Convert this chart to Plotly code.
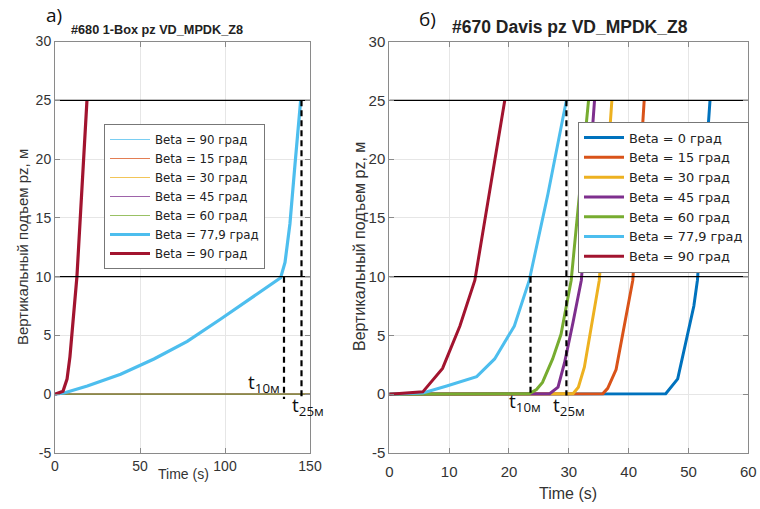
import plotly.graph_objects as go

# ---------------- data ----------------
# Left panel: #680 1-Box
left_flat_t = [0, 150]
left_flat_pz = [0, 0]
left_b779_t = [0, 5.3, 19, 38.6, 58.2, 77.8, 97.5, 117, 132.7, 135.3, 138.2, 141.2, 144.5]
left_b779_pz = [0, 0.1, 0.7, 1.7, 3.0, 4.5, 6.4, 8.3, 9.9, 11.2, 14.5, 19.6, 25]
left_b90_t = [0, 4.7, 7.1, 8.8, 12.9, 18.8]
left_b90_pz = [0, 0.25, 1.3, 3.2, 10, 25]
left_t10 = 134.7
left_t25 = 145.0

# Right panel: #670 Davis
r_b0_t = [0, 46.2, 48.2, 50.9, 51.5, 53.6]
r_b0_pz = [0, 0.05, 1.3, 7.5, 9.7, 25]
r_b15_t = [0, 35.7, 36.5, 37.9, 40.7, 42.6]
r_b15_pz = [0, 0.05, 0.5, 2.1, 9.7, 25]
r_b30_t = [0, 30.7, 31.6, 32.6, 35.1, 37.2]
r_b30_pz = [0, 0.05, 0.6, 2.3, 9.7, 25]
r_b45_t = [0, 26.8, 28.2, 29.3, 30.7, 32.1, 34.3]
r_b45_pz = [0, 0.05, 0.6, 2.7, 6.1, 9.7, 25]
r_b60_t = [0, 23.4, 24.6, 25.6, 27.3, 28.7, 30.4, 33.3]
r_b60_pz = [0, 0.05, 0.4, 1.0, 3.0, 5.1, 9.7, 25]
r_b779_t = [0, 5.6, 9.6, 14.6, 17.6, 20.9, 23.4, 26.5, 29.6]
r_b779_pz = [0, 0.1, 0.7, 1.5, 3.0, 5.8, 9.7, 17, 25]
r_b90_t = [0, 5.6, 8.9, 11.8, 14.3, 19.3]
r_b90_pz = [0, 0.2, 2.2, 5.8, 9.7, 25]
right_t10 = 23.6
right_t25 = 29.6

levels = [10, 25]
labels = ["Beta = 0 град", "Beta = 15 град", "Beta = 30 град", "Beta = 45 град",
          "Beta = 60 град", "Beta = 77,9 град", "Beta = 90 град"]
left_xticks = [0, 50, 100, 150]
right_xticks = [0, 10, 20, 30, 40, 50, 60]
yticks = [-5, 0, 5, 10, 15, 20, 25, 30]
ytick_text = ["-5", "0", "5", "10", "15", "20", "25", "30"]

C0, C15, C30, C45, C60, C779, C90 = "#0072BD", "#D95319", "#EDB120", "#7E2F8E", "#77AC30", "#4DBEEE", "#A2142F"

fig = go.Figure()

# ---- left panel traces ----
thin = [("Beta = 90 град", C779), (labels[1], C15), (labels[2], C30), (labels[3], C45), (labels[4], C60)]
for name, col in thin:
    fig.add_trace(go.Scatter(x=left_flat_t, y=left_flat_pz, mode="lines", name=name,
                             line=dict(color=col, width=1.2), opacity=0.75,
                             xaxis="x", yaxis="y", legend="legend"))
fig.add_trace(go.Scatter(x=left_b779_t, y=left_b779_pz, mode="lines", name=labels[5],
                         line=dict(color=C779, width=3.2), xaxis="x", yaxis="y", legend="legend"))
fig.add_trace(go.Scatter(x=left_b90_t, y=left_b90_pz, mode="lines", name=labels[6],
                         line=dict(color=C90, width=3.2), xaxis="x", yaxis="y", legend="legend"))

for lv in levels:
    fig.add_trace(go.Scatter(x=[0, 150], y=[lv, lv], mode="lines", showlegend=False,
                             line=dict(color="black", width=1.3), xaxis="x", yaxis="y"))
for tv, lv in [(left_t10, 10), (left_t25, 25)]:
    fig.add_trace(go.Scatter(x=[tv, tv], y=[lv, -0.4], mode="lines", showlegend=False,
                             line=dict(color="black", width=2.2, dash="6px,4px"), xaxis="x", yaxis="y"))

# ---- right panel traces ----
right_series = [(r_b0_t, r_b0_pz, C0), (r_b15_t, r_b15_pz, C15), (r_b30_t, r_b30_pz, C30),
                (r_b45_t, r_b45_pz, C45), (r_b60_t, r_b60_pz, C60), (r_b779_t, r_b779_pz, C779),
                (r_b90_t, r_b90_pz, C90)]
for (tt, pp, col), name in zip(right_series, labels):
    fig.add_trace(go.Scatter(x=tt, y=pp, mode="lines", name=name,
                             line=dict(color=col, width=3), xaxis="x2", yaxis="y2", legend="legend2"))
for lv in levels:
    fig.add_trace(go.Scatter(x=[0, 60], y=[lv, lv], mode="lines", showlegend=False,
                             line=dict(color="black", width=1.3), xaxis="x2", yaxis="y2"))
for tv, lv in [(right_t10, 10), (right_t25, 25)]:
    fig.add_trace(go.Scatter(x=[tv, tv], y=[lv, -0.1], mode="lines", showlegend=False,
                             line=dict(color="black", width=2.2, dash="6px,4px"), xaxis="x2", yaxis="y2"))

W, H = 760, 509
def px_x(p): return p / W
def px_y(p): return 1 - p / H

FONT = "Liberation Sans, Arial"
LFONT = "DejaVu Sans"
axcommon = dict(showline=True, mirror="ticks", linecolor="#8a8a8a", linewidth=1,
                ticks="inside", ticklen=5, tickcolor="#8a8a8a", automargin=False,
                showgrid=True, gridcolor="#e6e6e6", gridwidth=1, zeroline=False)

ydom = [px_y(453), px_y(41.5)]
fig.update_layout(
    width=W, height=H, margin=dict(l=0, r=0, t=0, b=0, autoexpand=False),
    paper_bgcolor="white", plot_bgcolor="white",
    xaxis=dict(domain=[px_x(55), px_x(310)], range=[0, 150], tickvals=left_xticks, anchor="y",
               tickfont=dict(family=FONT, size=14, color="#333333"),
               **axcommon),
    yaxis=dict(domain=ydom, range=[-5, 30], tickvals=yticks, ticktext=ytick_text, anchor="x",
               tickfont=dict(family=FONT, size=14, color="#333333"),
               **axcommon),
    xaxis2=dict(domain=[px_x(389.3), px_x(748.3)], range=[0, 60], tickvals=right_xticks, anchor="y2",
                tickfont=dict(family=FONT, size=15, color="#333333"), ticklabelstandoff=5,
                **axcommon),
    yaxis2=dict(domain=ydom, range=[-5, 30], tickvals=yticks, ticktext=ytick_text, anchor="x2",
                tickfont=dict(family=FONT, size=15, color="#333333"),
                **axcommon),
    legend=dict(x=px_x(104), y=px_y(124), xanchor="left", yanchor="top",
                bgcolor="white", bordercolor="#777777", borderwidth=1,
                font=dict(family=LFONT, size=11.8, color="#222222"),
                itemwidth=40, tracegroupgap=0),
    legend2=dict(x=px_x(578), y=px_y(121.7), xanchor="left", yanchor="top",
                 bgcolor="white", bordercolor="#777777", borderwidth=1,
                 font=dict(family=LFONT, size=12.9, color="#222222"),
                 itemwidth=40, tracegroupgap=0),
    showlegend=True,
)

ann = []
def txt(t, x, y, size, fam=FONT, color="#222222", angle=0):
    ann.append(dict(text=t, x=px_x(x), y=px_y(y), xref="paper", yref="paper", showarrow=False,
                    xanchor="center", yanchor="middle",
                    textangle=angle, font=dict(family=fam, size=size, color=color)))

txt("<b>#680 1-Box pz VD_MPDK_Z8</b>", 157, 30, 12.7)
txt("<b>#670 Davis pz VD_MPDK_Z8</b>", 570, 27, 17.5)
txt("a)", 54, 15, 19, "Open Sans", "#111111")
txt("б)", 427, 19, 19, "Open Sans", "#111111")
txt("Вертикальный подъем pz, м", 22, 247, 15, color="#333333", angle=-90)
txt("Вертикальный подъем pz, м", 359, 247, 16, color="#333333", angle=-90)
txt("Time (s)", 183, 474, 14, color="#333333")
txt("Time (s)", 568, 493, 16, color="#333333")
tf_size = 19
txt("t<sub>10м</sub>", 264, 383, tf_size, "Open Sans", "#111111")
txt("t<sub>25м</sub>", 308, 406, tf_size, "Open Sans", "#111111")
txt("t<sub>10м</sub>", 525, 402, tf_size, "Open Sans", "#111111")
txt("t<sub>25м</sub>", 569, 406, tf_size, "Open Sans", "#111111")
fig.update_layout(annotations=ann)

fig.write_html("out.html")
